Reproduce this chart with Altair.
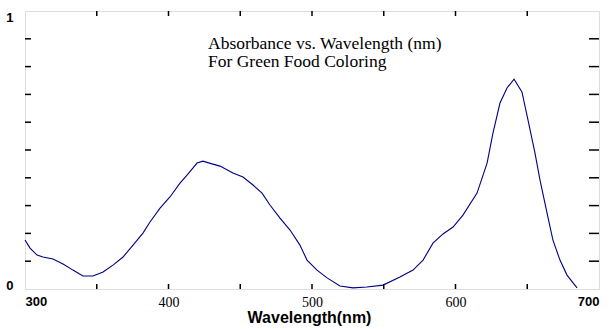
import altair as alt
import pandas as pd

# ---- data ----
wavelength = [300.0, 303.5, 308.4, 312.5, 319.5, 326.5, 333.4, 340.4, 347.4, 354.4,
              361.3, 368.3, 375.3, 382.2, 387.1, 394.1, 401.0, 408.0, 412.9, 419.9,
              424.0, 430.3, 435.9, 444.9, 451.9, 458.9, 465.2, 470.7, 477.7, 484.7,
              491.6, 496.5, 503.5, 510.5, 519.5, 528.6, 538.3, 549.5, 561.3, 570.4,
              577.4, 584.3, 591.3, 598.3, 605.2, 615.0, 622.0, 626.1, 631.0, 635.9,
              640.8, 646.3, 650.5, 655.4, 658.9, 663.8, 667.9, 672.8, 677.7, 684.7]
absorbance = [0.176, 0.147, 0.122, 0.115, 0.108, 0.090, 0.068, 0.047, 0.047, 0.061,
              0.086, 0.115, 0.158, 0.201, 0.241, 0.291, 0.331, 0.381, 0.410, 0.453,
              0.460, 0.450, 0.442, 0.417, 0.403, 0.374, 0.345, 0.302, 0.255, 0.212,
              0.158, 0.104, 0.068, 0.040, 0.011, 0.004, 0.007, 0.014, 0.043, 0.068,
              0.104, 0.165, 0.198, 0.223, 0.266, 0.345, 0.453, 0.561, 0.669, 0.723,
              0.755, 0.709, 0.608, 0.489, 0.392, 0.273, 0.176, 0.104, 0.050, 0.004]

x_label_values = [300, 400, 500, 600, 700]
x_tick_values = [350, 400, 450, 500, 550, 600, 650]
y_label_values = [0, 1]
y_tick_values = [0.1, 0.2, 0.3, 0.4, 0.5, 0.6, 0.7, 0.8, 0.9]
title_lines = ["Absorbance vs. Wavelength (nm)", "For Green Food Coloring"]

W, H = 574, 278

df = pd.DataFrame({"wavelength": wavelength, "absorbance": absorbance})
xt = pd.DataFrame({"wavelength": x_tick_values})
yt = pd.DataFrame({"absorbance": y_tick_values})

xscale = alt.Scale(domain=[300, 700], nice=False, zero=False)
yscale = alt.Scale(domain=[0, 1], nice=False)

bold_end = "datum.value == 300 || datum.value == 700"

x_axis = alt.Axis(
    values=x_label_values, ticks=False, domain=False, grid=False, format="d",
    labelFont=alt.condition(bold_end, alt.value("Liberation Sans"), alt.value("Liberation Sans Narrow")),
    labelFontWeight=alt.condition(bold_end, alt.value("bold"), alt.value("normal")),
    labelFontSize=alt.condition(bold_end, alt.value(13), alt.value(14)),
    labelAlign={"condition": [{"test": "datum.value == 300", "value": "left"},
                              {"test": "datum.value == 700", "value": "right"}],
                "value": "center"},
    labelColor="black", labelBaseline="top", labelPadding=6,
    labelFlush=False, labelOverlap=False,
    title="Wavelength(nm)", titleFont="Liberation Sans", titleFontSize=16,
    titleFontWeight="bold", titleColor="black", titleX=284, titleY=33,
    titleAlign="center", titleBaseline="alphabetic",
)

y_axis = alt.Axis(
    values=y_label_values, ticks=False, domain=False, grid=False, format="d",
    labelFont="Liberation Sans", labelFontWeight="bold", labelFontSize=13,
    labelColor="black", labelPadding=12, labelFlush=False,
    labelBaseline=alt.condition("datum.value == 1", alt.value("top"), alt.value("alphabetic")),
    title=None,
)

line = alt.Chart(df).mark_line(color="#000080", strokeWidth=1.1).encode(
    x=alt.X("wavelength:Q", scale=xscale, axis=x_axis),
    y=alt.Y("absorbance:Q", scale=yscale, axis=y_axis),
)

bottom_ticks = alt.Chart(xt).mark_rule(color="black", strokeWidth=1.5).encode(
    x=alt.X("wavelength:Q", scale=xscale), y=alt.value(H), y2=alt.value(H - 5))
top_ticks = alt.Chart(xt).mark_rule(color="black", strokeWidth=1.5).encode(
    x=alt.X("wavelength:Q", scale=xscale), y=alt.value(0), y2=alt.value(5))
left_ticks = alt.Chart(yt).mark_rule(color="black", strokeWidth=1.5).encode(
    y=alt.Y("absorbance:Q", scale=yscale), x=alt.value(0), x2=alt.value(6))
right_ticks = alt.Chart(yt).mark_rule(color="black", strokeWidth=1.5).encode(
    y=alt.Y("absorbance:Q", scale=yscale), x=alt.value(W - 10), x2=alt.value(W))

title1 = alt.Chart(pd.DataFrame({"text": [title_lines[0]]})).mark_text(
    font="Liberation Serif", fontSize=17.5, align="left", baseline="alphabetic", color="black",
).encode(text="text:N", x=alt.value(183), y=alt.value(38))
title2 = alt.Chart(pd.DataFrame({"text": [title_lines[1]]})).mark_text(
    font="Liberation Serif", fontSize=17.5, align="left", baseline="alphabetic", color="black",
).encode(text="text:N", x=alt.value(183), y=alt.value(56))

chart = alt.layer(line, bottom_ticks, top_ticks, left_ticks, right_ticks, title1, title2).properties(
    width=W, height=H,
    autosize=alt.AutoSizeParams(type="none"),
    padding={"left": 25, "top": 11, "right": 11, "bottom": 40},
).configure_view(stroke="black", strokeWidth=2).configure(background="white")

chart.save("out.html", embed_options={"renderer": "svg", "actions": False})
